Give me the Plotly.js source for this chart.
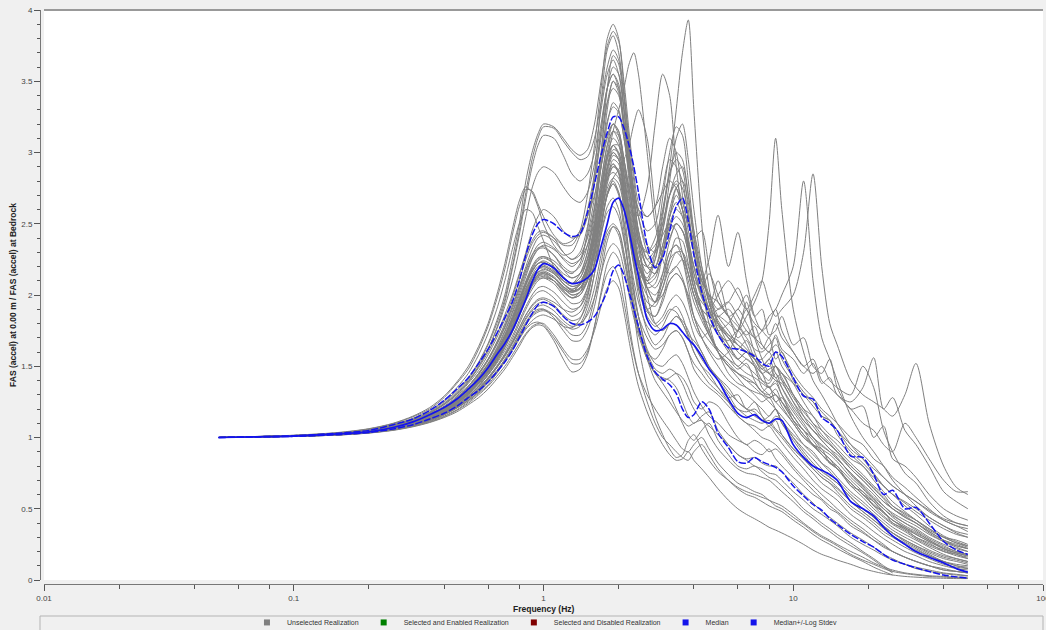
<!DOCTYPE html>
<html><head><meta charset="utf-8">
<script src="https://cdn.plot.ly/plotly-3.0.1.min.js"></script>
<style>html,body{margin:0;padding:0;background:#f0f0f0;}#chart{width:1046px;height:630px;}</style>
</head><body><div id="chart"></div>
<script>
// ---------- data ----------
const freq = [0.05,0.07,0.1,0.15,0.2,0.25,0.3,0.35,0.4,0.45,
0.5,0.55,0.6,0.65,0.7,0.75,0.8,0.85,0.9,0.95,
1.0,1.1,1.2,1.3,1.4,1.5,1.6,1.7,1.8,1.9,
2.0,2.1,2.2,2.3,2.4,2.6,2.8,3.0,3.2,3.4,
3.6,3.8,4.0,4.3,4.6,5.0,5.5,6.0,6.5,7.0,
7.5,8.0,8.5,9.0,10,11,12,13,14,15,
17,19,21,23,25,28,31,35,40,45,50];

const median = [1.0,1.005,1.01,1.025,1.04,1.07,1.11,1.16,1.21,1.27,
1.34,1.41,1.49,1.58,1.66,1.75,1.86,1.97,2.09,2.18,
2.22,2.19,2.12,2.08,2.09,2.12,2.18,2.34,2.5,2.65,
2.68,2.6,2.45,2.28,2.13,1.83,1.75,1.76,1.8,1.79,
1.74,1.69,1.65,1.57,1.48,1.4,1.27,1.17,1.14,1.16,
1.12,1.1,1.13,1.12,0.95,0.86,0.8,0.77,0.74,0.7,
0.55,0.5,0.45,0.37,0.31,0.25,0.2,0.16,0.12,0.08,0.055];

const medianPlusStdev = [1.0,1.005,1.012,1.03,1.05,1.09,1.13,1.19,1.26,1.34,
1.42,1.52,1.62,1.73,1.84,1.95,2.1,2.28,2.42,2.5,
2.53,2.5,2.44,2.41,2.43,2.58,2.78,2.98,3.14,3.25,
3.25,3.17,3.05,2.9,2.72,2.35,2.19,2.26,2.45,2.62,
2.68,2.52,2.28,2.02,1.86,1.72,1.63,1.62,1.6,1.57,
1.52,1.5,1.6,1.57,1.42,1.29,1.27,1.14,1.1,1.05,
0.87,0.86,0.74,0.6,0.63,0.5,0.51,0.4,0.27,0.21,0.18];

const medianMinusStdev = [1.0,1.004,1.008,1.02,1.035,1.06,1.09,1.13,1.17,1.22,
1.28,1.33,1.39,1.46,1.53,1.61,1.70,1.79,1.87,1.93,
1.95,1.92,1.85,1.80,1.79,1.81,1.85,1.93,2.03,2.17,
2.21,2.14,2.02,1.9,1.78,1.57,1.46,1.41,1.37,1.31,
1.2,1.14,1.16,1.25,1.2,1.03,0.93,0.83,0.82,0.86,
0.83,0.81,0.79,0.76,0.66,0.59,0.53,0.49,0.43,0.39,
0.32,0.27,0.23,0.18,0.14,0.11,0.085,0.06,0.035,0.022,0.014];

const r01 = [1.0,1.006,1.014,1.03,1.055,1.09,1.13,1.18,1.25,1.33,
1.42,1.53,1.66,1.82,2.0,2.25,2.5,2.8,3.0,3.13,
3.2,3.18,3.1,3.02,2.98,3.02,3.2,3.5,3.75,3.85,
3.78,3.5,3.15,2.85,2.65,2.55,2.62,2.9,3.1,3.0,
2.7,2.45,2.3,2.1,2.0,1.95,1.85,1.7,1.75,1.6,
1.5,1.55,1.45,1.4,1.3,1.2,1.15,1.05,1.0,0.95,
0.85,0.8,0.7,0.62,0.55,0.48,0.42,0.35,0.3,0.28,0.25];
const r02 = [1.0,1.006,1.013,1.028,1.052,1.085,1.125,1.175,1.24,1.32,
1.41,1.52,1.65,1.8,1.97,2.2,2.45,2.72,2.95,3.1,
3.18,3.17,3.08,3.0,2.95,2.97,3.1,3.35,3.6,3.72,
3.65,3.4,3.1,2.8,2.55,2.3,2.2,2.35,2.6,2.75,
2.6,2.3,2.05,1.9,1.85,1.8,1.7,1.6,1.55,1.5,
1.45,1.35,1.4,1.3,1.15,1.05,0.98,0.9,0.85,0.8,
0.7,0.62,0.55,0.47,0.42,0.37,0.32,0.27,0.22,0.19,0.17];
const r03 = [1.0,1.006,1.013,1.027,1.05,1.082,1.12,1.17,1.23,1.3,
1.39,1.5,1.62,1.77,1.95,2.18,2.42,2.68,2.9,3.05,
3.12,3.1,2.98,2.85,2.8,2.85,3.0,3.3,3.55,3.65,
3.55,3.3,3.0,2.75,2.6,2.45,2.5,2.75,2.95,2.9,
2.8,2.55,2.35,2.15,1.95,1.75,1.62,1.55,1.6,1.5,
1.35,1.3,1.25,1.2,1.1,1.0,0.95,0.88,0.82,0.78,
0.68,0.6,0.52,0.45,0.4,0.35,0.3,0.25,0.21,0.18,0.16];
const r04 = [1.0,1.007,1.016,1.035,1.062,1.1,1.15,1.21,1.29,1.39,
1.5,1.64,1.8,2.0,2.22,2.46,2.66,2.76,2.72,2.62,
2.5,2.35,2.28,2.3,2.42,2.6,2.85,3.15,3.45,3.6,
3.55,3.3,3.0,2.7,2.4,2.05,1.95,2.1,2.3,2.35,
2.25,2.05,1.85,1.7,1.6,1.5,1.4,1.35,1.3,1.25,
1.2,1.15,1.2,1.1,1.0,0.92,0.85,0.78,0.72,0.68,
0.58,0.5,0.44,0.38,0.33,0.28,0.24,0.19,0.15,0.13,0.11];
const r05 = [1.0,1.007,1.015,1.033,1.06,1.097,1.145,1.2,1.28,1.38,
1.48,1.62,1.78,1.97,2.18,2.42,2.62,2.74,2.73,2.64,
2.55,2.42,2.36,2.38,2.45,2.55,2.7,2.9,3.1,3.2,
3.15,2.95,2.75,2.55,2.35,2.2,2.15,2.3,2.55,2.7,
2.6,2.35,2.1,1.9,1.75,1.6,1.45,1.38,1.35,1.3,
1.25,1.28,1.2,1.12,1.02,0.95,0.9,0.82,0.76,0.7,
0.6,0.53,0.46,0.4,0.35,0.3,0.26,0.21,0.17,0.15,0.13];
const r06 = [1.0,1.006,1.014,1.03,1.056,1.09,1.135,1.19,1.26,1.35,
1.45,1.58,1.73,1.9,2.1,2.32,2.5,2.6,2.58,2.48,
2.38,2.2,2.1,2.08,2.15,2.3,2.55,2.9,3.3,3.5,
3.45,3.2,2.9,2.6,2.35,2.0,1.8,1.75,1.8,1.85,
1.8,1.7,1.6,1.5,1.45,1.35,1.25,1.15,1.1,1.05,
1.0,0.98,0.95,0.9,0.8,0.72,0.66,0.6,0.55,0.5,
0.42,0.36,0.3,0.25,0.2,0.16,0.13,0.1,0.08,0.06,0.05];
const r07 = [1.0,1.005,1.011,1.024,1.044,1.072,1.11,1.155,1.21,1.28,
1.36,1.45,1.55,1.67,1.8,1.95,2.1,2.25,2.36,2.42,
2.44,2.4,2.35,2.35,2.45,2.7,3.05,3.45,3.8,3.9,
3.8,3.45,3.05,2.7,2.45,2.2,2.2,2.45,2.8,3.1,
3.2,2.95,2.6,2.2,1.95,1.75,1.65,1.55,1.5,1.45,
1.4,1.38,1.45,1.35,1.2,1.1,1.0,0.95,0.9,0.85,
0.75,0.67,0.6,0.52,0.47,0.42,0.38,0.32,0.27,0.24,0.22];
const r08 = [1.0,1.005,1.01,1.022,1.04,1.066,1.1,1.14,1.19,1.25,
1.32,1.4,1.49,1.59,1.7,1.82,1.95,2.08,2.18,2.24,
2.26,2.22,2.15,2.12,2.15,2.25,2.45,2.7,2.95,3.15,
3.3,3.45,3.62,3.7,3.55,3.0,2.5,2.3,2.4,2.5,
2.45,2.3,2.1,1.9,1.75,1.6,1.5,1.45,1.4,1.35,
1.3,1.25,1.2,1.15,1.05,0.95,0.88,0.82,0.78,0.72,
0.62,0.55,0.48,0.42,0.37,0.32,0.28,0.23,0.18,0.15,0.13];
const r09 = [1.0,1.005,1.01,1.021,1.038,1.062,1.095,1.135,1.18,1.24,
1.3,1.38,1.46,1.55,1.65,1.76,1.88,2.0,2.1,2.16,
2.18,2.15,2.08,2.04,2.08,2.2,2.4,2.65,2.9,3.05,
3.05,2.9,2.7,2.5,2.35,2.3,2.4,2.6,2.9,3.3,
3.7,3.93,3.3,2.5,2.05,1.8,1.7,1.65,1.6,1.55,
1.5,1.45,1.5,1.4,1.25,1.12,1.05,0.98,0.92,0.86,
0.74,0.65,0.57,0.5,0.45,0.4,0.35,0.29,0.24,0.2,0.18];
const r10 = [1.0,1.005,1.011,1.023,1.042,1.068,1.104,1.148,1.2,1.27,
1.34,1.43,1.52,1.63,1.75,1.88,2.02,2.15,2.26,2.32,
2.33,2.28,2.2,2.16,2.2,2.35,2.6,2.9,3.2,3.35,
3.3,3.1,2.85,2.65,2.55,2.75,3.2,3.55,3.4,2.9,
2.6,2.5,2.35,2.1,1.9,1.72,1.6,1.5,1.55,1.5,
1.4,1.35,1.3,1.25,1.15,1.05,1.0,0.92,0.88,0.83,
0.72,0.64,0.56,0.5,0.44,0.38,0.34,0.28,0.23,0.2,0.18];
const r11 = [1.0,1.005,1.01,1.022,1.041,1.067,1.1,1.142,1.19,1.25,
1.32,1.4,1.49,1.59,1.7,1.82,1.95,2.07,2.16,2.22,
2.24,2.2,2.12,2.08,2.12,2.25,2.48,2.78,3.05,3.2,
3.15,2.95,2.7,2.45,2.25,2.05,1.95,2.0,2.1,2.15,
2.1,1.95,1.8,1.7,1.75,1.85,1.8,1.75,1.85,1.95,
2.1,2.5,3.1,2.6,1.9,1.6,1.4,1.3,1.2,1.1,
0.95,0.85,0.75,0.66,0.6,0.52,0.46,0.38,0.31,0.27,0.24];
const r12 = [1.0,1.005,1.01,1.021,1.039,1.064,1.097,1.138,1.185,1.24,
1.31,1.39,1.47,1.57,1.68,1.8,1.92,2.03,2.12,2.18,
2.2,2.16,2.08,2.03,2.05,2.15,2.35,2.62,2.88,3.02,
3.0,2.82,2.6,2.4,2.25,2.1,2.05,2.15,2.3,2.35,
2.3,2.15,2.0,1.85,1.8,1.75,1.8,1.9,1.8,1.7,
1.75,1.85,1.9,2.0,2.2,2.8,2.1,1.7,1.55,1.4,
1.15,1.0,0.9,0.8,0.7,0.6,0.52,0.44,0.38,0.33,0.3];
const r13 = [1.0,1.005,1.01,1.02,1.037,1.06,1.092,1.13,1.175,1.23,
1.29,1.36,1.44,1.53,1.63,1.74,1.85,1.96,2.04,2.1,
2.12,2.1,2.03,1.98,2.0,2.1,2.3,2.55,2.8,2.95,
2.92,2.72,2.5,2.3,2.15,2.0,1.95,2.05,2.2,2.3,
2.3,2.2,2.05,1.95,1.9,2.0,2.1,2.0,1.9,2.0,
2.1,1.95,1.85,1.9,2.0,2.3,2.85,2.2,1.8,1.65,
1.4,1.3,1.25,1.2,1.15,1.3,1.52,1.1,0.8,0.65,0.6];
const r14 = [1.0,1.005,1.011,1.023,1.043,1.07,1.106,1.15,1.2,1.26,
1.33,1.42,1.51,1.61,1.72,1.85,1.98,2.1,2.2,2.26,
2.27,2.22,2.13,2.08,2.1,2.2,2.42,2.72,3.0,3.15,
3.12,2.95,2.75,2.55,2.4,2.3,2.35,2.5,2.7,2.8,
2.75,2.55,2.3,2.1,2.25,2.56,2.2,2.44,2.1,1.85,
1.75,1.8,1.9,1.75,1.6,1.5,1.45,1.5,1.4,1.35,
1.3,1.5,1.35,1.05,0.9,0.75,0.68,0.55,0.45,0.4,0.38];
const r15 = [1.0,1.004,1.01,1.022,1.04,1.066,1.1,1.14,1.19,1.25,
1.32,1.4,1.48,1.58,1.68,1.79,1.91,2.02,2.12,2.18,
2.2,2.16,2.08,2.03,2.05,2.15,2.32,2.55,2.75,2.82,
2.78,2.62,2.42,2.22,2.05,1.85,1.78,1.82,1.9,1.88,
1.8,1.72,1.68,1.6,1.5,1.4,1.3,1.2,1.18,1.2,
1.15,1.1,1.15,1.12,1.0,0.9,0.82,0.76,0.72,0.68,
0.58,0.5,0.44,0.38,0.33,0.27,0.23,0.18,0.13,0.1,0.08];
const r16 = [1.0,1.005,1.011,1.024,1.045,1.073,1.11,1.155,1.21,1.28,
1.36,1.45,1.55,1.66,1.78,1.92,2.06,2.2,2.32,2.4,
2.42,2.38,2.3,2.25,2.3,2.48,2.78,3.15,3.45,3.55,
3.45,3.2,2.88,2.6,2.4,2.2,2.15,2.3,2.55,2.75,
2.8,2.65,2.4,2.15,1.95,1.8,1.65,1.55,1.6,1.55,
1.45,1.4,1.5,1.45,1.3,1.15,1.05,1.0,0.95,0.9,
0.8,0.72,0.65,0.58,0.52,0.46,0.42,0.36,0.3,0.26,0.24];
const r17 = [1.0,1.004,1.009,1.02,1.036,1.058,1.088,1.125,1.17,1.22,
1.28,1.34,1.41,1.49,1.57,1.66,1.75,1.84,1.9,1.94,
1.95,1.92,1.85,1.8,1.8,1.86,1.98,2.15,2.3,2.36,
2.32,2.18,2.0,1.84,1.72,1.55,1.45,1.42,1.4,1.35,
1.25,1.15,1.1,1.15,1.18,1.05,0.95,0.88,0.85,0.86,
0.82,0.8,0.8,0.76,0.68,0.6,0.54,0.48,0.44,0.4,
0.33,0.28,0.23,0.18,0.15,0.11,0.09,0.07,0.05,0.04,0.03];
const r18 = [1.0,1.003,1.008,1.017,1.031,1.05,1.075,1.105,1.14,1.18,
1.23,1.28,1.34,1.41,1.48,1.56,1.64,1.72,1.77,1.79,
1.78,1.68,1.55,1.46,1.48,1.58,1.78,2.02,2.22,2.3,
2.25,2.05,1.8,1.6,1.45,1.25,1.1,1.0,0.95,0.9,
0.86,0.84,0.9,0.95,0.88,0.78,0.7,0.64,0.6,0.58,
0.55,0.52,0.5,0.48,0.42,0.37,0.32,0.28,0.25,0.22,
0.17,0.13,0.09,0.06,0.035,null,null,null,null,null,null];
const r19 = [1.0,1.003,1.008,1.018,1.033,1.053,1.08,1.112,1.15,1.195,
1.25,1.31,1.37,1.45,1.53,1.61,1.69,1.76,1.8,1.81,
1.79,1.7,1.6,1.52,1.52,1.6,1.78,2.0,2.15,2.2,
2.12,1.95,1.75,1.58,1.45,1.3,1.2,1.12,1.05,0.98,
0.92,0.9,0.95,1.0,0.92,0.82,0.74,0.68,0.65,0.62,
0.6,0.56,0.54,0.52,0.46,0.4,0.35,0.31,0.28,0.25,
0.2,0.16,0.12,0.09,0.07,0.05,0.04,0.03,0.025,0.02,0.02];
const r20 = [1.0,1.005,1.01,1.022,1.041,1.067,1.102,1.145,1.195,1.255,
1.33,1.41,1.5,1.6,1.71,1.83,1.96,2.08,2.17,2.22,
2.23,2.18,2.1,2.06,2.08,2.18,2.38,2.65,2.9,3.0,
2.95,2.75,2.5,2.3,2.15,2.1,2.25,2.55,2.85,3.0,
2.95,2.7,2.4,2.05,1.8,1.6,1.5,1.42,1.35,1.32,
1.3,1.28,1.3,1.25,1.12,1.02,0.95,0.88,0.83,0.78,
0.66,0.58,0.5,0.44,0.39,0.34,0.29,0.24,0.2,0.17,0.15];
const r21 = [1.0,1.004,1.009,1.02,1.037,1.06,1.092,1.13,1.175,1.23,
1.29,1.36,1.44,1.53,1.63,1.74,1.86,1.97,2.06,2.11,
2.12,2.08,2.0,1.94,1.95,2.05,2.22,2.42,2.58,2.62,
2.55,2.38,2.18,2.0,1.85,1.7,1.62,1.65,1.72,1.75,
1.7,1.6,1.48,1.4,1.35,1.3,1.22,1.15,1.1,1.08,
1.05,1.08,1.02,0.96,0.86,0.78,0.7,0.64,0.6,0.56,
0.46,0.4,0.34,0.29,0.25,0.2,0.17,0.13,0.1,0.08,0.07];
const r22 = [1.0,1.005,1.011,1.024,1.044,1.072,1.108,1.152,1.205,1.27,
1.35,1.44,1.54,1.65,1.77,1.9,2.04,2.17,2.28,2.35,
2.37,2.33,2.25,2.2,2.25,2.42,2.68,2.98,3.22,3.32,
3.28,3.1,2.88,2.7,2.6,2.55,2.62,2.72,2.8,2.75,
2.6,2.4,2.2,2.0,1.85,1.72,1.68,1.75,1.65,1.55,
1.55,1.6,1.5,1.45,1.38,1.3,1.22,1.15,1.12,1.05,
0.95,0.88,0.8,0.72,0.66,0.6,0.55,0.48,0.42,0.38,0.36];
const r23 = [1.0,1.005,1.01,1.021,1.039,1.064,1.097,1.138,1.185,1.24,
1.31,1.38,1.46,1.55,1.65,1.76,1.88,1.99,2.08,2.14,
2.16,2.12,2.05,2.0,2.02,2.12,2.3,2.55,2.78,2.9,
2.88,2.7,2.5,2.32,2.2,2.1,2.15,2.3,2.45,2.5,
2.45,2.35,2.2,2.1,2.0,1.9,1.95,2.05,1.9,1.8,
1.75,1.7,1.8,1.7,1.6,1.5,1.55,1.4,1.35,1.3,
1.2,1.1,1.05,0.95,0.9,1.1,1.0,0.85,0.7,0.62,0.62];
const r24 = [1.0,1.004,1.009,1.019,1.035,1.057,1.087,1.123,1.165,1.215,
1.27,1.33,1.4,1.47,1.55,1.64,1.73,1.81,1.87,1.9,
1.9,1.84,1.75,1.68,1.68,1.76,1.92,2.15,2.38,2.48,
2.45,2.3,2.1,1.92,1.78,1.58,1.45,1.38,1.3,1.2,
1.1,1.02,0.98,1.05,1.1,0.98,0.88,0.8,0.78,0.8,
0.76,0.72,0.7,0.66,0.58,0.5,0.45,0.4,0.36,0.32,
0.26,0.2,0.15,0.1,0.06,null,null,null,null,null,null];
const r25 = [1.0,1.004,1.01,1.022,1.04,1.065,1.1,1.14,1.188,1.245,
1.31,1.39,1.47,1.56,1.66,1.77,1.88,1.99,2.07,2.12,
2.13,2.1,2.04,2.02,2.08,2.22,2.45,2.75,2.98,3.05,
2.98,2.75,2.48,2.22,2.0,1.75,1.65,1.7,1.8,1.85,
1.82,1.75,1.65,1.55,1.48,1.42,1.35,1.25,1.2,1.18,
1.12,1.15,1.2,1.1,0.98,0.88,0.8,0.74,0.7,0.65,
0.55,0.48,0.42,0.36,0.31,0.26,0.22,0.17,0.13,0.1,0.09];
const r26 = [1.0,1.005,1.01,1.023,1.043,1.07,1.105,1.148,1.2,1.262,
1.34,1.42,1.52,1.62,1.74,1.87,2.0,2.13,2.25,2.32,
2.35,2.32,2.26,2.22,2.25,2.35,2.5,2.68,2.82,2.86,
2.82,2.68,2.5,2.35,2.25,2.2,2.3,2.42,2.5,2.45,
2.3,2.15,2.0,1.9,1.85,1.9,1.95,1.85,1.75,1.7,
1.65,1.6,1.65,1.6,1.45,1.35,1.28,1.2,1.15,1.1,
1.0,0.95,0.85,0.8,0.72,0.65,0.58,0.5,0.42,0.38,0.34];
const r27 = [1.0,1.004,1.009,1.019,1.035,1.056,1.085,1.12,1.16,1.21,
1.26,1.32,1.39,1.46,1.54,1.62,1.71,1.79,1.85,1.88,
1.89,1.86,1.8,1.76,1.78,1.88,2.05,2.28,2.45,2.5,
2.45,2.28,2.08,1.9,1.75,1.55,1.45,1.4,1.42,1.45,
1.42,1.35,1.25,1.2,1.25,1.22,1.1,1.0,0.95,0.98,
0.95,0.9,0.92,0.88,0.78,0.7,0.63,0.57,0.52,0.48,
0.4,0.34,0.28,0.23,0.2,0.16,0.13,0.1,0.07,0.06,0.05];
const r28 = [1.0,1.005,1.01,1.021,1.04,1.065,1.098,1.14,1.188,1.245,
1.31,1.39,1.47,1.56,1.66,1.77,1.89,2.0,2.09,2.14,
2.15,2.1,2.02,1.98,2.02,2.18,2.5,2.98,3.45,3.68,
3.62,3.3,2.88,2.5,2.2,1.9,1.8,1.85,1.95,2.0,
1.95,1.85,1.72,1.6,1.5,1.42,1.32,1.25,1.2,1.15,
1.12,1.1,1.05,1.0,0.9,0.82,0.75,0.68,0.64,0.6,
0.5,0.44,0.38,0.32,0.28,0.23,0.19,0.15,0.11,0.09,0.08];
const r29 = [1.0,1.005,1.01,1.022,1.041,1.066,1.1,1.142,1.19,1.25,
1.32,1.4,1.49,1.59,1.69,1.81,1.93,2.04,2.13,2.18,
2.19,2.15,2.08,2.04,2.07,2.18,2.38,2.62,2.82,2.9,
2.86,2.68,2.45,2.25,2.08,1.9,1.85,1.95,2.1,2.15,
2.1,2.0,1.85,1.7,1.62,1.55,1.6,1.75,1.9,1.7,
1.55,1.45,1.4,1.38,1.25,1.15,1.08,1.0,0.95,0.9,
0.78,0.7,0.62,0.55,0.5,0.44,0.4,0.33,0.27,0.23,0.2];
const r30 = [1.0,1.006,1.012,1.026,1.048,1.078,1.117,1.165,1.22,1.29,
1.38,1.47,1.58,1.7,1.83,1.98,2.14,2.3,2.45,2.55,
2.6,2.55,2.45,2.4,2.42,2.55,2.8,3.1,3.35,3.45,
3.4,3.2,2.95,2.72,2.55,2.35,2.3,2.45,2.7,2.85,
2.9,2.7,2.45,2.2,2.0,1.85,1.75,1.65,1.6,1.58,
1.5,1.55,1.6,1.5,1.38,1.25,1.15,1.08,1.02,0.98,
0.88,0.8,0.72,0.66,0.6,0.55,0.5,0.44,0.38,0.34,0.32];
const r31 = [1.0,1.003,1.008,1.017,1.032,1.052,1.078,1.108,1.145,1.19,
1.24,1.3,1.36,1.43,1.5,1.58,1.66,1.73,1.78,1.8,
1.8,1.72,1.62,1.55,1.55,1.62,1.75,1.92,2.05,2.1,
2.05,1.88,1.68,1.5,1.36,1.18,1.05,0.95,0.88,0.84,
0.85,0.9,0.84,0.78,0.72,0.64,0.56,0.5,0.46,0.43,
0.4,0.37,0.35,0.33,0.29,0.25,0.21,0.18,0.16,0.14,
0.11,0.08,0.06,0.045,0.035,0.025,0.02,0.015,0.012,0.01,0.01];
const r32 = [1.0,1.005,1.011,1.024,1.045,1.074,1.112,1.158,1.213,1.28,
1.36,1.45,1.55,1.66,1.78,1.92,2.05,2.18,2.28,2.33,
2.34,2.28,2.18,2.12,2.15,2.3,2.6,3.0,3.35,3.5,
3.42,3.15,2.8,2.5,2.3,2.15,2.25,2.5,2.7,2.78,
2.65,2.5,2.4,2.45,2.2,1.95,1.85,1.78,1.7,1.62,
1.6,1.65,1.7,1.55,1.42,1.32,1.25,1.18,1.12,1.05,
0.92,0.85,0.78,0.72,0.66,0.6,0.55,0.49,0.43,0.4,0.38];
const r33 = [1.0,1.004,1.01,1.021,1.039,1.063,1.096,1.136,1.183,1.238,
1.3,1.37,1.45,1.54,1.64,1.75,1.87,1.98,2.07,2.13,
2.15,2.12,2.06,2.02,2.04,2.14,2.34,2.6,2.85,2.98,
2.95,2.78,2.55,2.33,2.15,1.95,1.92,2.05,2.25,2.4,
2.38,2.22,2.05,1.88,1.72,1.62,1.55,1.48,1.52,1.4,
1.32,1.36,1.25,1.28,1.12,1.05,0.95,0.92,0.82,0.8,
0.66,0.62,0.52,0.48,0.4,0.36,0.3,0.26,0.2,0.18,0.15];
const r34 = [1.0,1.004,1.009,1.02,1.036,1.058,1.089,1.126,1.17,1.222,
1.28,1.35,1.42,1.5,1.59,1.69,1.8,1.9,1.98,2.02,
2.03,1.98,1.9,1.85,1.88,2.0,2.22,2.5,2.72,2.8,
2.72,2.5,2.25,2.02,1.85,1.62,1.52,1.5,1.55,1.58,
1.52,1.42,1.32,1.22,1.15,1.1,1.02,0.98,0.95,0.9,
0.88,0.92,0.85,0.8,0.72,0.66,0.6,0.56,0.5,0.47,
0.38,0.33,0.28,0.24,0.2,0.16,0.13,0.1,0.07,0.06,0.05];
const r35 = [1.0,1.005,1.011,1.023,1.043,1.07,1.106,1.15,1.2,1.265,
1.34,1.42,1.51,1.61,1.72,1.84,1.97,2.09,2.19,2.25,
2.27,2.24,2.18,2.15,2.22,2.45,2.85,3.35,3.72,3.82,
3.7,3.38,3.0,2.68,2.45,2.25,2.32,2.58,2.85,2.95,
2.88,2.6,2.3,2.05,1.9,1.78,1.7,1.62,1.68,1.55,
1.48,1.52,1.42,1.45,1.3,1.2,1.1,1.05,0.98,0.92,
0.82,0.74,0.66,0.6,0.52,0.47,0.42,0.36,0.3,0.26,0.23];
const r36 = [1.0,1.004,1.009,1.019,1.034,1.055,1.083,1.117,1.158,1.206,
1.26,1.32,1.39,1.46,1.54,1.62,1.7,1.77,1.82,1.85,
1.86,1.83,1.78,1.77,1.83,1.98,2.25,2.6,2.88,3.0,
2.95,2.72,2.45,2.22,2.05,1.88,1.85,1.98,2.15,2.2,
2.12,1.98,1.85,1.75,1.68,1.6,1.5,1.45,1.42,1.38,
1.32,1.3,1.34,1.25,1.12,1.02,0.95,0.9,0.85,0.78,
0.68,0.6,0.55,0.48,0.42,0.37,0.33,0.28,0.22,0.19,0.17];
const r37 = [1.0,1.005,1.01,1.022,1.04,1.066,1.1,1.142,1.19,1.248,
1.32,1.39,1.48,1.57,1.67,1.78,1.9,2.01,2.1,2.15,
2.16,2.12,2.05,2.0,2.02,2.1,2.28,2.5,2.7,2.82,
2.88,2.95,3.05,3.2,3.3,3.1,2.6,2.25,2.15,2.2,
2.25,2.15,2.0,1.85,1.72,1.6,1.52,1.45,1.4,1.38,
1.32,1.28,1.3,1.22,1.1,1.0,0.94,0.88,0.82,0.78,
0.68,0.6,0.53,0.47,0.42,0.36,0.32,0.27,0.22,0.19,0.17];
const r38 = [1.0,1.004,1.009,1.019,1.035,1.057,1.086,1.122,1.165,1.215,
1.27,1.34,1.41,1.49,1.57,1.66,1.75,1.83,1.89,1.92,
1.93,1.89,1.82,1.78,1.8,1.92,2.15,2.45,2.7,2.78,
2.7,2.45,2.15,1.88,1.65,1.35,1.15,1.02,0.92,0.86,
0.88,0.98,1.02,0.92,0.84,0.76,0.7,0.65,0.62,0.6,
0.58,0.56,0.52,0.5,0.44,0.39,0.34,0.3,0.27,0.24,
0.18,0.14,0.11,0.08,0.06,0.045,0.035,0.025,0.02,0.015,0.012];
const r39 = [1.0,1.005,1.01,1.021,1.039,1.064,1.097,1.138,1.186,1.243,
1.31,1.38,1.46,1.55,1.65,1.76,1.88,1.99,2.08,2.13,
2.14,2.1,2.03,1.98,2.0,2.1,2.3,2.58,2.82,2.92,
2.86,2.65,2.42,2.2,2.05,1.9,1.95,2.15,2.38,2.5,
2.45,2.3,2.1,2.05,2.15,2.0,1.85,1.9,2.0,1.85,
1.9,1.72,1.75,1.85,1.65,1.7,1.5,1.45,1.55,1.35,
1.2,1.22,1.0,1.08,0.85,0.8,0.72,0.6,0.5,0.45,0.42];
const r40 = [1.0,1.005,1.012,1.027,1.05,1.082,1.122,1.172,1.232,1.305,
1.39,1.49,1.6,1.72,1.86,2.0,2.15,2.28,2.38,2.44,
2.45,2.4,2.3,2.25,2.28,2.4,2.62,2.9,3.12,3.2,
3.12,2.9,2.65,2.42,2.25,2.05,2.0,2.1,2.25,2.3,
2.25,2.1,1.95,1.82,1.72,1.62,1.55,1.5,1.45,1.42,
1.38,1.35,1.38,1.3,1.18,1.08,1.0,0.94,0.9,0.85,
0.75,0.66,0.58,0.52,0.46,0.4,0.36,0.3,0.25,0.22,0.2];
const r41 = [1.0,1.004,1.009,1.02,1.036,1.058,1.088,1.124,1.168,1.218,
1.28,1.34,1.41,1.49,1.58,1.67,1.77,1.86,1.93,1.97,
1.98,1.95,1.9,1.88,1.92,2.05,2.3,2.62,2.85,2.92,
2.85,2.6,2.3,2.05,1.85,1.6,1.48,1.45,1.48,1.45,
1.38,1.28,1.2,1.12,1.08,1.02,0.95,0.88,0.84,0.8,
0.78,0.75,0.74,0.7,0.62,0.56,0.5,0.46,0.42,0.38,
0.3,0.25,0.21,0.17,0.14,0.11,0.08,0.06,0.045,0.035,0.03];
const r42 = [1.0,1.005,1.01,1.022,1.04,1.065,1.099,1.14,1.188,1.245,
1.31,1.39,1.47,1.57,1.67,1.78,1.9,2.01,2.1,2.16,
2.17,2.13,2.06,2.02,2.05,2.18,2.42,2.72,2.98,3.1,
3.05,2.85,2.6,2.38,2.22,2.05,2.08,2.28,2.5,2.6,
2.55,2.38,2.2,2.0,1.92,2.1,1.85,1.75,1.95,1.72,
1.62,1.7,1.55,1.6,1.4,1.3,1.25,1.15,1.12,1.02,
0.9,0.82,0.74,0.66,0.6,0.54,0.48,0.42,0.36,0.32,0.3];
const r43 = [1.0,1.006,1.013,1.028,1.052,1.084,1.124,1.174,1.236,1.31,
1.4,1.5,1.62,1.76,1.92,2.1,2.32,2.55,2.75,2.86,
2.9,2.86,2.76,2.68,2.65,2.72,2.92,3.2,3.45,3.55,
3.48,3.22,2.92,2.65,2.45,2.25,2.2,2.35,2.55,2.65,
2.55,2.35,2.15,1.98,1.88,1.8,1.72,1.68,1.62,1.55,
1.48,1.45,1.42,1.35,1.22,1.12,1.05,0.98,0.92,0.88,
0.78,0.7,0.62,0.55,0.5,0.44,0.4,0.34,0.28,0.25,0.22];
const r44 = [1.0,1.004,1.009,1.019,1.034,1.055,1.084,1.118,1.16,1.208,
1.26,1.32,1.39,1.46,1.54,1.63,1.72,1.8,1.86,1.89,
1.9,1.86,1.78,1.72,1.72,1.8,1.98,2.22,2.42,2.48,
2.42,2.25,2.05,1.88,1.75,1.6,1.55,1.62,1.72,1.75,
1.7,1.6,1.52,1.45,1.38,1.32,1.25,1.2,1.15,1.12,
1.1,1.12,1.06,1.02,0.92,0.85,0.78,0.72,0.68,0.64,
0.55,0.48,0.42,0.37,0.33,0.28,0.24,0.2,0.16,0.14,0.12];
const r45 = [1.0,1.005,1.011,1.023,1.042,1.069,1.104,1.147,1.197,1.258,
1.33,1.41,1.5,1.6,1.71,1.83,1.95,2.07,2.17,2.22,
2.23,2.19,2.12,2.08,2.12,2.26,2.5,2.8,3.05,3.15,
3.08,2.85,2.58,2.35,2.2,2.12,2.3,2.68,3.0,3.18,
3.12,2.8,2.45,2.15,1.98,1.82,1.72,1.65,1.6,1.52,
1.45,1.48,1.5,1.42,1.28,1.18,1.1,1.02,0.96,0.9,
0.8,0.72,0.64,0.57,0.5,0.45,0.4,0.34,0.28,0.24,0.22];
const r46 = [1.0,1.004,1.009,1.02,1.036,1.058,1.088,1.125,1.168,1.22,
1.28,1.34,1.42,1.5,1.58,1.67,1.77,1.86,1.92,1.96,
1.97,1.93,1.86,1.82,1.84,1.95,2.15,2.42,2.62,2.68,
2.6,2.4,2.15,1.95,1.78,1.55,1.4,1.32,1.25,1.18,
1.12,1.08,1.1,1.12,1.02,0.92,0.84,0.78,0.75,0.74,
0.72,0.7,0.66,0.62,0.55,0.48,0.43,0.38,0.34,0.3,
0.24,0.19,0.14,0.09,0.05,null,null,null,null,null,null];
const r47 = [1.0,1.005,1.01,1.022,1.041,1.067,1.101,1.143,1.192,1.25,
1.32,1.4,1.49,1.59,1.7,1.82,1.94,2.05,2.14,2.2,
2.21,2.17,2.1,2.06,2.08,2.2,2.42,2.7,2.95,3.05,
3.0,2.8,2.55,2.35,2.2,2.08,2.12,2.3,2.48,2.55,
2.5,2.35,2.15,2.0,1.9,1.85,1.9,1.8,1.72,1.78,
1.65,1.6,1.72,1.62,1.55,1.45,1.52,1.38,1.42,1.3,
1.25,1.35,1.56,1.2,1.28,1.05,0.95,0.8,0.62,0.55,0.5];
const r48 = [1.0,1.004,1.01,1.021,1.038,1.061,1.093,1.132,1.178,1.232,
1.29,1.36,1.44,1.52,1.61,1.71,1.82,1.92,2.0,2.05,
2.06,2.02,1.95,1.9,1.92,2.02,2.22,2.48,2.7,2.78,
2.72,2.52,2.3,2.1,1.95,1.78,1.72,1.78,1.88,1.92,
1.85,1.72,1.6,1.5,1.42,1.35,1.28,1.3,1.2,1.25,
1.15,1.08,1.12,1.02,0.92,0.85,0.78,0.72,0.68,0.62,
0.52,0.46,0.4,0.34,0.3,0.25,0.21,0.17,0.13,0.11,0.1];

const realizations = [r01,r02,r03,r04,r05,r06,r07,r08,r09,r10,r11,r12,r13,r14,r15,r16,
r17,r18,r19,r20,r21,r22,r23,r24,r25,r26,r27,r28,r29,r30,r31,r32,
r33,r34,r35,r36,r37,r38,r39,r40,r41,r42,r43,r44,r45,r46,r47,r48];

const legendNames = ['Unselected Realization','Selected and Enabled Realization',
  'Selected and Disabled Realization','Median','Median+/-Log Stdev'];

const xTickVals = [0.01,0.1,1,10,100];
const xTickText = ['0.01','0.1','1','10','100'];
const xMinorTickVals = [0.02,0.04,0.06,0.08,0.2,0.4,0.6,0.8,2,4,6,8,20,40,60,80];

const xTitle = 'Frequency (Hz)';
const yTitle = 'FAS (accel) at 0.00 m / FAS (accel) at Bedrock';

// ---------- styles ----------
const FONT = 'Liberation Sans, Arial, sans-serif';
const GREY = 'rgb(128,128,128)';
const BLUE = 'rgb(20,20,235)';
const legendColors = [GREY, 'rgb(0,128,0)', 'rgb(128,0,0)', BLUE, BLUE];

const traces = [];
realizations.forEach(function (r) {
  traces.push({x: freq, y: r, type: 'scatter', mode: 'lines', showlegend: false,
    hoverinfo: 'skip', line: {color: GREY, width: 1, shape: 'spline', smoothing: 0.8}});
});
traces.push({x: freq, y: medianPlusStdev, type: 'scatter', mode: 'lines', showlegend: false,
  line: {color: BLUE, width: 1.5, dash: '7px,2px', shape: 'spline', smoothing: 0.8}});
traces.push({x: freq, y: medianMinusStdev, type: 'scatter', mode: 'lines', showlegend: false,
  line: {color: BLUE, width: 1.5, dash: '7px,2px', shape: 'spline', smoothing: 0.8}});
traces.push({x: freq, y: median, type: 'scatter', mode: 'lines', showlegend: false,
  line: {color: BLUE, width: 1.7, shape: 'spline', smoothing: 0.8}});
legendNames.forEach(function (n, i) {
  traces.push({x: [null], y: [null], type: 'scatter', mode: 'markers', name: n,
    marker: {symbol: 'square', size: 6, color: legendColors[i]}});
});

const plotW = 1046 - 40 - 3;
const plotH = 630 - 10 - 46;

const layout = {
  width: 1046, height: 630,
  margin: {l: 40, r: 3, t: 10, b: 46, pad: 0},
  paper_bgcolor: '#f0f0f0',
  plot_bgcolor: '#ffffff',
  font: {family: FONT, size: 8, color: '#333'},
  showlegend: true,
  legend: {orientation: 'h', xref: 'container', yref: 'container', x: 0.521, xanchor: 'center',
    y: 0.012, yanchor: 'middle', bgcolor: 'rgba(0,0,0,0)', borderwidth: 0,
    font: {family: FONT, size: 7, color: '#333'}, itemclick: false, itemdoubleclick: false},
  xaxis: {type: 'log', range: [-2, 2], domain: [4 / plotW, 1], anchor: 'free', position: 0,
    showline: true, linecolor: '#777', linewidth: 1, showgrid: false, zeroline: false,
    tickmode: 'array', tickvals: xTickVals, ticktext: xTickText, ticklabeloverflow: 'allow',
    ticks: 'outside', ticklen: 6, tickcolor: '#555', tickwidth: 1,
    tickfont: {family: FONT, size: 8, color: '#444'},
    minor: {tickmode: 'array', tickvals: xMinorTickVals, ticks: 'outside', ticklen: 4, tickcolor: '#555', showgrid: false}},
  yaxis: {range: [0, 4], domain: [4 / plotH, 1], anchor: 'free', position: 0,
    showline: true, linecolor: '#777', linewidth: 1, showgrid: false, zeroline: false,
    tick0: 0, dtick: 0.5, ticks: 'outside', ticklen: 6, tickcolor: '#555',
    tickfont: {family: FONT, size: 8, color: '#444'},
    minor: {dtick: 0.1, ticks: 'outside', ticklen: 3, tickcolor: '#555', showgrid: false},
    title: {text: '<b>' + yTitle + '</b>', font: {family: FONT, size: 8.5, color: '#222'}, standoff: 2}},
  annotations: [
    {text: '<b>' + xTitle + '</b>', xref: 'paper', yref: 'paper', x: (543.5 - 40) / plotW, y: -25 / plotH,
      xanchor: 'center', yanchor: 'middle', showarrow: false, font: {family: FONT, size: 8.5, color: '#222'}}
  ],
  shapes: [
    {type: 'line', xref: 'paper', yref: 'paper', x0: 4 / plotW, x1: 1, y0: 1, y1: 1,
      line: {color: '#999', width: 2}},
    {type: 'rect', xref: 'paper', yref: 'paper', x0: 0, x1: 1, y0: -32 / plotH, y1: -48 / plotH,
      line: {color: '#b4b4b4', width: 1}, fillcolor: '#f0f0f0', layer: 'below'}
  ]
};

Plotly.newPlot('chart', traces, layout, {displayModeBar: false, staticPlot: true});
</script>
</body></html>
